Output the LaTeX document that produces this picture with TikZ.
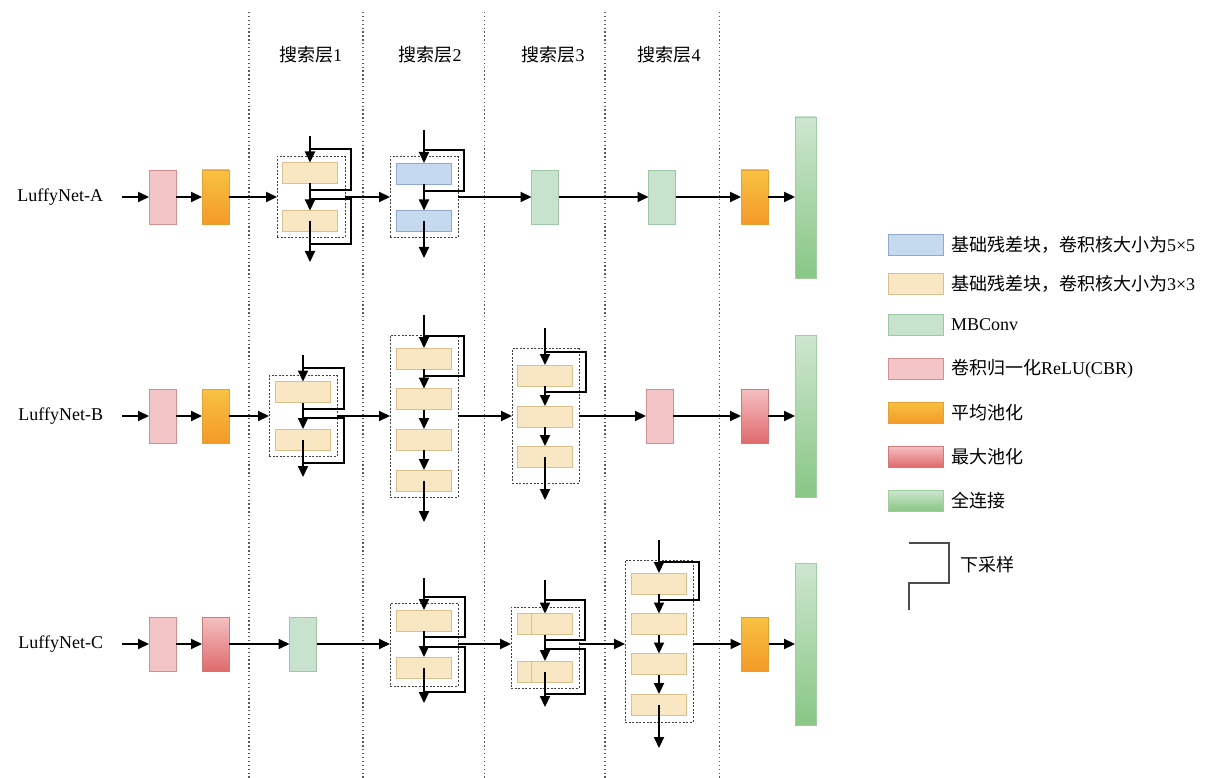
\documentclass[tikz,border=0pt]{standalone}
\usepackage{fontspec}
\setmainfont{Liberation Serif}
\newfontfamily\cjk{Noto Sans CJK SC}
\usetikzlibrary{arrows.meta,calc}
\definecolor{cbrF}{HTML}{F3C5C7}\definecolor{cbrD}{HTML}{CF8F93}
\definecolor{avgT}{HTML}{F7C242}\definecolor{avgB}{HTML}{F49A28}\definecolor{avgD}{HTML}{E3A035}
\definecolor{maxT}{HTML}{F5C0C2}\definecolor{maxB}{HTML}{E06A6C}\definecolor{maxD}{HTML}{C97B7C}
\definecolor{mbF}{HTML}{C8E3CD}\definecolor{mbD}{HTML}{9FC6A7}
\definecolor{fcT}{HTML}{CDE6CF}\definecolor{fcB}{HTML}{88C784}\definecolor{fcD}{HTML}{A2CBA0}
\definecolor{blF}{HTML}{C6DAEF}\definecolor{blD}{HTML}{8FA8CC}
\definecolor{ylF}{HTML}{F9E7C4}\definecolor{ylD}{HTML}{D9C08E}
\newcommand\skiploop[4]{\draw[lp] (#1,#2) -- (#3,#2) -- (#3,#4) -- (#1,#4);}
\begin{document}
\begin{tikzpicture}[x=1pt,y=-1pt,
  every node/.style={inner sep=0pt, outer sep=0pt},
  txt/.style={font=\fontsize{18}{21}\selectfont},
  arr/.style={line width=2.1pt, -{Triangle[length=11pt,width=10pt]}},
  lp/.style={line width=2.1pt, line join=miter},
  sm/.style={minimum width=27pt, minimum height=54pt, line width=0.8pt},
  cbr/.style={sm, draw=cbrD, fill=cbrF},
  avgp/.style={sm, draw=avgD, top color=avgT, bottom color=avgB},
  maxp/.style={sm, draw=maxD, top color=maxT, bottom color=maxB},
  mbc/.style={sm, draw=mbD, fill=mbF},
  fcl/.style={minimum width=21pt, minimum height=162pt, line width=0.8pt, draw=fcD, top color=fcT, bottom color=fcB},
  blk/.style={minimum width=55pt, minimum height=21pt, line width=0.8pt},
  yb/.style={blk, draw=ylD, fill=ylF},
  bb/.style={blk, draw=blD, fill=blF},
  dbox/.style={draw=black!75, line width=0.8pt, dash pattern=on 2pt off 1.6pt},
  vdot/.style={draw=black!65, line width=1.3pt, dash pattern=on 1.3pt off 2.6pt},
  leg/.style={blk, minimum width=55pt},
]
\fill[white] (0,0) rectangle (1213,778);
\useasboundingbox (0,0) rectangle (1213,778);

% column separators and titles
\foreach \x in {249,363,484.5,605,719.5} \draw[vdot] (\x,12) -- (\x,778);
\node[txt] (t1) at (310.5,55) {{\cjk 搜索层}1};
\node[txt] (t2) at (430,55) {{\cjk 搜索层}2};
\node[txt] (t3) at (553,55) {{\cjk 搜索层}3};
\node[txt] (t4) at (669,55) {{\cjk 搜索层}4};

% ================= Row A =================
\node[txt, anchor=east] (labA) at (103,197) {LuffyNet-A};
\node[cbr] (pA) at (162.5,197) {};
\node[avgp] (oA) at (215.5,197) {};
\node[dbox, minimum width=68pt, minimum height=81pt] (A1) at (311,197) {};
\node[yb] (A1b1) at (310,173) {};
\node[yb] (A1b2) at (310,221) {};
\coordinate (A1in) at (310,136); \coordinate (A1out) at (310,262);
\node[dbox, minimum width=68pt, minimum height=81pt] (A2) at (424,197) {};
\node[bb] (A2b1) at (424,173.5) {};
\node[bb] (A2b2) at (424,221) {};
\coordinate (A2in) at (424,130); \coordinate (A2out) at (424,258);
\node[mbc] (mA1) at (545,197) {};
\node[mbc] (mA2) at (662,197) {};
\node[avgp] (oA2) at (754.5,197) {};
\node[fcl, minimum height=161pt] (fA) at (805.5,197.5) {};

\draw[arr, shorten <=19pt] (labA.east) -- (pA.west);
\draw[arr] (pA) -- (oA);
\draw[arr] (oA) -- (A1.west);
\draw[arr] (A1in) -- (A1b1.north);
\skiploop{310}{149}{351}{190}
\draw[arr] (A1b1.south) -- (A1b2.north);
\skiploop{310}{199}{351}{244}
\draw[arr] (A1b2.center) -- (A1out);
\draw[arr] (A1.east) -- (A2.west);
\draw[arr] (A2in) -- (A2b1.north);
\skiploop{424}{150}{464}{191}
\draw[arr] (A2b1.south) -- (A2b2.north);
\draw[arr] (A2b2.center) -- (A2out);
\draw[arr] (A2.east) -- (mA1.west);
\draw[arr] (mA1) -- (mA2);
\draw[arr] (mA2) -- (oA2);
\draw[arr] (oA2.east) -- (oA2.east -| fA.west);

% ================= Row B =================
\node[txt, anchor=east] (labB) at (103,416) {LuffyNet-B};
\node[cbr] (pB) at (162.5,416) {};
\node[avgp] (oB) at (215.5,416) {};
\node[dbox, minimum width=68pt, minimum height=81pt] (B1) at (303,416) {};
\node[yb] (B1b1) at (303,392) {};
\node[yb] (B1b2) at (303,439.5) {};
\coordinate (B1in) at (303,355); \coordinate (B1out) at (303,477);
\node[dbox, minimum width=68pt, minimum height=162pt] (B2) at (424,416) {};
\node[yb] (B2b1) at (424,358.5) {};
\node[yb] (B2b2) at (424,399) {};
\node[yb] (B2b3) at (424,439.5) {};
\node[yb] (B2b4) at (424,480.5) {};
\coordinate (B2in) at (424,315); \coordinate (B2out) at (424,522);
\node[dbox, minimum width=67pt, minimum height=135pt] (B3) at (545.5,416) {};
\node[yb] (B3b1) at (545,375.5) {};
\node[yb] (B3b2) at (545,416.5) {};
\node[yb] (B3b3) at (545,456.5) {};
\coordinate (B3in) at (545,328); \coordinate (B3out) at (545,500);
\node[cbr] (pB2) at (659.5,416) {};
\node[maxp] (rB) at (754.5,416) {};
\node[fcl] (fB) at (805.5,416) {};

\draw[arr, shorten <=19pt] (labB.east) -- (pB.west);
\draw[arr] (pB) -- (oB);
\draw[arr] (oB) -- (B1.west);
\draw[arr] (B1in) -- (B1b1.north);
\skiploop{303}{368}{344}{409}
\draw[arr] (B1b1.south) -- (B1b2.north);
\skiploop{303}{418}{344}{463}
\draw[arr] (B1b2.center) -- (B1out);
\draw[arr] (B1.east) -- (B2.west);
\draw[arr] (B2in) -- (B2b1.north);
\skiploop{424}{336}{464}{376}
\draw[arr] (B2b1.south) -- (B2b2.north);
\draw[arr] (B2b2.south) -- (B2b3.north);
\draw[arr] (B2b3.south) -- (B2b4.north);
\draw[arr] (B2b4.center) -- (B2out);
\draw[arr] (B2.east) -- (B3.west);
\draw[arr] (B3in) -- (B3b1.north);
\skiploop{545}{352}{586}{392}
\draw[arr] (B3b1.south) -- (B3b2.north);
\draw[arr] (B3b2.south) -- (B3b3.north);
\draw[arr] (B3b3.center) -- (B3out);
\draw[arr] (B3.east) -- (pB2.west);
\draw[arr] (pB2) -- (rB);
\draw[arr] (rB) -- (fB);

% ================= Row C =================
\coordinate (rowC) at (0,644);
\node[txt, anchor=east] (labC) at (103,644) {LuffyNet-C};
\node[cbr] (pC) at (162.5,644) {};
\node[maxp] (rC) at (215.5,644) {};
\node[mbc] (mC) at (303,644) {};
\node[dbox, minimum width=68pt, minimum height=83pt] (C2) at (424,644.5) {};
\node[yb] (C2b1) at (424,620.5) {};
\node[yb] (C2b2) at (424,667.5) {};
\coordinate (C2in) at (424,578); \coordinate (C2out) at (424,703);
\node[dbox, minimum width=68pt, minimum height=81pt] (C3) at (545,647.5) {};
\node[yb] (C3b1) at (545,624) {};
\node[yb] (C3b2) at (545,671.5) {};
\draw[ylD, line width=0.8pt] ($(C3b1.north west)+(14,0)$) -- ($(C3b1.south west)+(14,0)$);
\draw[ylD, line width=0.8pt] ($(C3b2.north west)+(14,0)$) -- ($(C3b2.south west)+(14,0)$);
\coordinate (C3in) at (545,580); \coordinate (C3out) at (545,707);
\node[dbox, minimum width=68pt, minimum height=162pt] (C4) at (659,641) {};
\node[yb] (C4b1) at (659,583.5) {};
\node[yb] (C4b2) at (659,624) {};
\node[yb] (C4b3) at (659,664) {};
\node[yb] (C4b4) at (659,704.5) {};
\coordinate (C4in) at (659,540); \coordinate (C4out) at (659,748);
\node[avgp] (oC2) at (755,644) {};
\node[fcl] (fC) at (805.5,644) {};

\draw[arr, shorten <=19pt] (labC.east) -- (pC.west);
\draw[arr] (pC) -- (rC);
\draw[arr] (rC) -- (mC);
\draw[arr] (mC) -- (C2.west |- rowC);
\draw[arr] (C2in) -- (C2b1.north);
\skiploop{424}{597}{465}{637}
\draw[arr] (C2b1.south) -- (C2b2.north);
\skiploop{424}{647}{465}{692}
\draw[arr] (C2b2.center) -- (C2out);
\draw[arr] (C2.east |- rowC) -- (C3.west |- rowC);
\draw[arr] (C3in) -- (C3b1.north);
\skiploop{545}{600}{585}{640}
\draw[arr] (C3b1.south) -- (C3b2.north);
\skiploop{545}{649}{585}{694}
\draw[arr] (C3b2.center) -- (C3out);
\draw[arr] (C3.east |- rowC) -- (C4.west |- rowC);
\draw[arr] (C4in) -- (C4b1.north);
\skiploop{659}{562}{699}{600}
\draw[arr] (C4b1.south) -- (C4b2.north);
\draw[arr] (C4b2.south) -- (C4b3.north);
\draw[arr] (C4b3.south) -- (C4b4.north);
\draw[arr] (C4b4.center) -- (C4out);
\draw[arr] (C4.east |- rowC) -- (oC2.west);
\draw[arr] (oC2) -- (fC);

% ================= Legend =================
\node[leg, draw=blD, fill=blF] (L1) at (915.5,244.5) {};
\node[leg, draw=ylD, fill=ylF] (L2) at (915.5,284) {};
\node[leg, draw=mbD, fill=mbF] (L3) at (915.5,325) {};
\node[leg, draw=cbrD, fill=cbrF] (L4) at (915.5,368.5) {};
\node[leg, draw=avgD, top color=avgT, bottom color=avgB] (L5) at (915.5,412.5) {};
\node[leg, draw=maxD, top color=maxT, bottom color=maxB] (L6) at (915.5,456.5) {};
\node[leg, draw=fcD, top color=fcT, bottom color=fcB] (L7) at (915.5,500.5) {};
\node[txt, anchor=west] (T1) at (951,244.5) {{\cjk 基础残差块，卷积核大小为}5×5};
\node[txt, anchor=west] (T2) at (951,284) {{\cjk 基础残差块，卷积核大小为}3×3};
\node[txt, anchor=west] (T3) at (951,325) {MBConv};
\node[txt, anchor=west] (T4) at (951,368.5) {{\cjk 卷积归一化}ReLU(CBR)};
\node[txt, anchor=west] (T5) at (951,412.5) {{\cjk 平均池化}};
\node[txt, anchor=west] (T6) at (951,456.5) {{\cjk 最大池化}};
\node[txt, anchor=west] (T7) at (951,500.5) {{\cjk 全连接}};
\draw[black!70, line width=1.2pt] (909,543) -- (949,543) -- (949,583) -- (909,583) -- (909,610);
\node[txt, anchor=west] (T8) at (960,565) {{\cjk 下采样}};
\end{tikzpicture}
\end{document}
